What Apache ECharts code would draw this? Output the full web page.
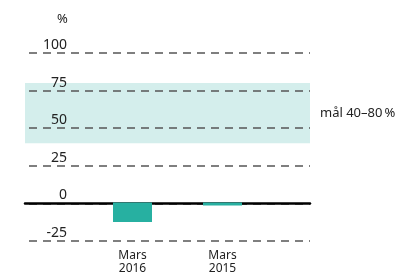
<!DOCTYPE html>
<html>
<head>
<meta charset="utf-8">
<script src="https://cdn.jsdelivr.net/npm/echarts@6/dist/echarts.min.js"></script>
<style>
  html, body { margin: 0; padding: 0; background: #fff; }
  #chart { width: 406px; height: 275px; }
</style>
</head>
<body>
<div id="chart"></div>
<script>
// data
const categories = ['Mars\n2016', 'Mars\n2015'];
const values = [-13, -2];
const yMin = -25;
const yMax = 100;
const yStep = 25;
const targetBand = [40, 80];
const targetLabel = 'mål 40–80\u2009%';

const FONT = 'Noto Sans';
const TXT = '#222';

const chart = echarts.init(document.getElementById('chart'));

const option = {
  animation: false,
  grid: [
    // back grid: dashed lines, band, zero line
    { left: 25, right: 96, top: 53, bottom: 34 },
    // bar grid
    { left: 87.5, width: 180, top: 53, bottom: 34 }
  ],
  xAxis: [
    {
      gridIndex: 0,
      type: 'value',
      min: 0,
      max: 1,
      z: 4,
      axisLine: { show: true, onZero: true, lineStyle: { color: '#000', width: 2.5 } },
      axisTick: { show: false },
      axisLabel: { show: false },
      splitLine: { show: false }
    },
    {
      gridIndex: 1,
      type: 'category',
      data: categories,
      axisLine: { show: false, onZero: false },
      axisTick: { show: false },
      axisLabel: {
        margin: 9,
        fontFamily: FONT,
        fontSize: 12,
        lineHeight: 13,
        color: TXT
      }
    }
  ],
  yAxis: [
    {
      gridIndex: 0,
      type: 'value',
      min: yMin,
      max: yMax,
      interval: yStep,
      z: 3,
      name: '%',
      nameLocation: 'end',
      nameGap: 27,
      nameTextStyle: { fontFamily: FONT, fontSize: 13, color: TXT, align: 'left', padding: [0, 0, 0, 32] },
      axisLine: { show: false },
      axisTick: { show: false },
      axisLabel: {
        margin: -42,
        verticalAlign: 'bottom',
        lineHeight: 16,
        fontFamily: FONT,
        fontSize: 14,
        color: TXT
      },
      splitLine: {
        show: true,
        lineStyle: { color: '#555', width: 1.5, type: [8, 6], dashOffset: -4 }
      }
    },
    {
      gridIndex: 1,
      type: 'value',
      min: yMin,
      max: yMax,
      interval: yStep,
      show: false
    }
  ],
  series: [
    {
      type: 'line',
      xAxisIndex: 0,
      yAxisIndex: 0,
      data: [],
      silent: true,
      z: 1,
      markArea: {
        silent: true,
        itemStyle: { color: '#d4eeec' },
        label: {
          show: true,
          position: 'right',
          distance: 10,
          fontFamily: FONT,
          fontSize: 13,
          color: TXT,
          formatter: targetLabel
        },
        data: [[{ yAxis: targetBand[0] }, { yAxis: targetBand[1] }]]
      }
    },
    {
      type: 'bar',
      xAxisIndex: 1,
      yAxisIndex: 1,
      data: values,
      barWidth: 39,
      itemStyle: { color: '#27b0a1' },
      z: 5
    }
  ]
};

chart.setOption(option);
</script>
</body>
</html>
